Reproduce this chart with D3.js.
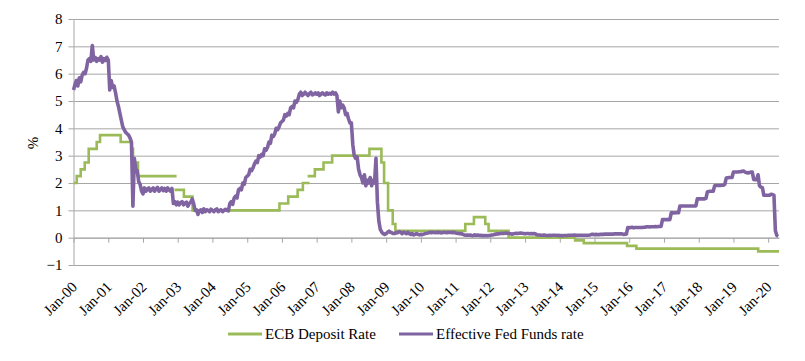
<!DOCTYPE html>
<html>
<head>
<meta charset="utf-8">
<script src="https://cdn.jsdelivr.net/npm/d3@7"></script>
<style>
  body { margin: 0; background: #fff; }
  svg { display: block; font-family: "Liberation Serif", "DejaVu Serif", serif; }
</style>
</head>
<body>
<svg id="chart" width="805" height="361"></svg>
<script>
// ECB deposit rate: change dates and the new rate (null = break in the line)
var ecbDates = ["2000-01-01","2000-02-04","2000-03-17","2000-04-28","2000-06-09","2000-09-01","2000-10-06",
  "2001-05-11","2001-08-31","2001-09-18","2001-11-09","2002-12-20", null,
  "2002-11-28","2003-03-07","2003-06-06","2005-12-06","2006-03-08","2006-06-15","2006-08-09","2006-10-18", null,
  "2006-09-28","2006-12-13","2007-03-14","2007-06-13","2008-07-09","2008-11-12","2008-12-10","2009-01-21",
  "2009-03-11","2009-04-08","2011-04-13","2011-07-13","2011-11-09","2011-12-14","2012-07-11","2014-06-11",
  "2014-09-10","2015-12-09","2016-03-16","2019-09-18","2020-04-24"];
var ecbRates = [2.0,2.25,2.5,2.75,3.25,3.5,3.75,
  3.5,3.25,2.75,2.25,2.25,null,
  1.75,1.5,1.0,1.25,1.5,1.75,2.0,2.0,null,
  2.25,2.5,2.75,3.0,3.25,2.75,2.0,1.0,
  0.5,0.25,0.5,0.75,0.5,0.25,0.0,-0.1,
  -0.2,-0.3,-0.4,-0.5,-0.5];

// Effective Fed Funds rate, read twice a month (1st and 16th) off the picture
var fed00 = [5.4,5.6,5.75,5.55,5.85,5.7,5.95,6.05,6.0,6.2,6.5,6.55,6.45,7.03,6.5,6.6,6.45,6.55,6.5,6.62,6.42,6.55,6.48,6.6];
var fed01 = [6.5,5.4,5.75,5.5,5.55,5.3,5.0,4.8,4.55,4.3,4.05,3.95,3.85,3.8,3.75,3.65,3.5,1.15,2.9,2.5,2.45,2.05,1.95,1.7];
var fed02 = [1.6,1.82,1.7,1.78,1.82,1.7,1.76,1.82,1.7,1.78,1.84,1.7,1.76,1.82,1.72,1.8,1.7,1.82,1.75,1.7,1.8,1.25,1.32,1.2];
var fed03 = [1.3,1.2,1.28,1.32,1.2,1.26,1.3,1.15,1.25,1.3,1.42,1.25,1.0,1.02,0.85,0.98,1.02,0.92,1.05,0.95,1.02,1.0,0.95,1.04];
var fed04 = [1.0,0.95,1.02,1.05,0.95,1.0,1.02,0.95,1.0,1.04,1.0,0.98,1.25,1.32,1.22,1.45,1.52,1.45,1.75,1.8,1.75,2.0,1.95,2.2];
var fed05 = [2.25,2.3,2.5,2.45,2.55,2.7,2.8,2.75,3.0,2.95,3.05,3.0,3.25,3.2,3.3,3.5,3.45,3.75,3.7,3.8,4.0,3.95,4.05,4.2];
var fed06 = [4.25,4.3,4.5,4.45,4.55,4.5,4.75,4.8,4.75,5.0,4.95,5.05,5.25,5.32,5.2,5.25,5.32,5.25,5.2,5.28,5.32,5.22,5.25,5.3];
var fed07 = [5.25,5.3,5.2,5.25,5.3,5.25,5.22,5.3,5.25,5.28,5.25,5.32,5.25,5.3,5.2,4.6,5.0,4.75,4.85,4.75,4.5,4.55,4.35,4.2];
var fed08 = [4.2,3.4,3.0,2.9,2.95,2.5,2.3,2.2,2.0,2.3,1.9,2.1,2.0,2.2,1.9,2.1,2.0,2.9,1.3,0.6,0.3,0.2,0.15,0.12];
var fed09 = [0.15,0.2,0.24,0.2,0.18,0.15,0.15,0.2,0.18,0.22,0.2,0.15,0.2,0.18,0.15,0.2,0.15,0.12,0.15,0.1,0.12,0.15,0.12,0.1];
var fed10 = [0.12,0.11,0.13,0.15,0.16,0.17,0.2,0.18,0.2,0.19,0.18,0.2,0.18,0.2,0.17,0.19,0.2,0.19,0.18,0.2,0.19,0.2,0.18,0.2];
var fed11 = [0.17,0.16,0.15,0.14,0.15,0.12,0.1,0.09,0.1,0.09,0.1,0.08,0.07,0.1,0.08,0.1,0.08,0.09,0.07,0.08,0.07,0.08,0.07,0.08];
var fed12 = [0.08,0.1,0.1,0.12,0.13,0.14,0.14,0.15,0.16,0.15,0.16,0.17,0.16,0.15,0.14,0.13,0.14,0.15,0.16,0.15,0.16,0.17,0.16,0.15];
var fed13 = [0.14,0.15,0.15,0.14,0.15,0.14,0.15,0.14,0.11,0.1,0.1,0.09,0.09,0.1,0.09,0.08,0.08,0.09,0.08,0.09,0.09,0.09,0.08,0.09];
var fed14 = [0.07,0.08,0.07,0.08,0.08,0.08,0.09,0.09,0.09,0.09,0.1,0.09,0.09,0.09,0.09,0.09,0.09,0.09,0.09,0.09,0.09,0.1,0.12,0.12];
var fed15 = [0.11,0.12,0.11,0.11,0.12,0.12,0.12,0.13,0.13,0.13,0.13,0.13,0.13,0.13,0.14,0.14,0.14,0.14,0.14,0.14,0.12,0.13,0.13,0.37];
var fed16 = [0.36,0.37,0.38,0.36,0.37,0.37,0.37,0.37,0.37,0.37,0.38,0.38,0.4,0.4,0.39,0.4,0.4,0.4,0.41,0.4,0.41,0.41,0.41,0.66];
var fed17 = [0.66,0.66,0.66,0.66,0.66,0.91,0.91,0.9,0.91,0.91,0.91,1.16,1.16,1.16,1.16,1.16,1.16,1.16,1.16,1.16,1.16,1.16,1.16,1.42];
var fed18 = [1.42,1.42,1.42,1.42,1.42,1.44,1.68,1.69,1.7,1.7,1.7,1.9,1.91,1.91,1.91,1.91,1.92,1.92,1.95,2.18,2.19,2.2,2.2,2.2];
var fed19 = [2.4,2.4,2.4,2.4,2.41,2.41,2.43,2.44,2.4,2.38,2.37,2.38,2.4,2.4,2.13,2.12,2.12,2.3,1.9,1.85,1.83,1.55,1.55,1.55];
var fed20 = [1.55,1.55,1.59,1.58,1.55,0.25,0.08,0.05];

var yTicks = [-1,0,1,2,3,4,5,6,7,8];
var seriesNames = ["ECB Deposit Rate", "Effective Fed Funds rate"];
var seriesColors = ["#9BBB59", "#8064A2"];

var svg = d3.select("#chart");
var plotLeft = 73.5, plotRight = 779, plotTop = 19, plotBottom = 265;
var fontSize = 15;

var parse = d3.utcParse("%Y-%m-%d");
var x = d3.scaleUtc()
  .domain([parse("2000-01-01"), parse("2020-04-24")])
  .range([plotLeft, plotRight]);
var y = d3.scaleLinear().domain([-1, 8]).range([plotBottom, plotTop]);

// gridlines
svg.append("g")
  .attr("transform", "translate(" + plotLeft + ",0)")
  .call(d3.axisLeft(y).tickValues(yTicks).tickSize(-(plotRight - plotLeft)).tickFormat(""))
  .call(function(g) {
    g.select(".domain").remove();
    g.selectAll("line").attr("stroke", "#A6A6A6").attr("stroke-width", 1);
  });

// y axis with labels
svg.append("g")
  .attr("transform", "translate(" + plotLeft + ",0)")
  .call(d3.axisLeft(y).tickValues(yTicks).tickSize(5).tickSizeOuter(0).tickPadding(6).tickFormat(d3.format("d")))
  .call(function(g) {
    g.select(".domain").attr("stroke", "#A6A6A6");
    g.selectAll("line").attr("stroke", "#A6A6A6");
    g.selectAll("text").attr("font-size", fontSize).attr("fill", "#000")
      .attr("font-family", "Liberation Serif, DejaVu Serif, serif");
  });

// x axis sits at zero, labels go below the -1 line
var xAxisG = svg.append("g")
  .attr("transform", "translate(0," + y(0) + ")")
  .call(d3.axisBottom(x).ticks(d3.utcYear.every(1)).tickSize(5).tickSizeOuter(0)
    .tickFormat(d3.utcFormat("Jan-%y")));
xAxisG.select(".domain").attr("stroke", "#A6A6A6");
xAxisG.selectAll("line").attr("stroke", "#A6A6A6");
xAxisG.selectAll("text")
  .attr("font-size", fontSize).attr("fill", "#000")
  .attr("font-family", "Liberation Serif, DejaVu Serif, serif")
  .attr("text-anchor", "end")
  .attr("x", 0).attr("y", 0).attr("dy", 0)
  .attr("transform", "translate(4," + (y(-1) - y(0) + 23) + ") rotate(-45)");

// y title
svg.append("text")
  .attr("transform", "translate(38,143) rotate(-90)")
  .attr("text-anchor", "middle")
  .attr("font-size", fontSize)
  .text("%");

// ECB step line
var ecbData = ecbDates.map(function(d, i) {
  return d === null ? null : { date: parse(d), value: ecbRates[i] };
});
var stepLine = d3.line()
  .defined(function(d) { return d !== null; })
  .x(function(d) { return x(d.date); })
  .y(function(d) { return y(d.value); })
  .curve(d3.curveStepAfter);
svg.append("path")
  .attr("d", stepLine(ecbData))
  .attr("fill", "none")
  .attr("stroke", seriesColors[0])
  .attr("stroke-width", 2.6);

// Fed funds line
var fedYears = [fed00,fed01,fed02,fed03,fed04,fed05,fed06,fed07,fed08,fed09,fed10,
  fed11,fed12,fed13,fed14,fed15,fed16,fed17,fed18,fed19,fed20];
var fedData = [];
fedYears.forEach(function(vals, yi) {
  vals.forEach(function(v, i) {
    var t = Date.UTC(2000 + yi, 0, 1) + i * (365.25 / 24) * 86400000;
    fedData.push({ date: new Date(t), value: v });
  });
});
var line = d3.line()
  .x(function(d) { return x(d.date); })
  .y(function(d) { return y(d.value); });
svg.append("path")
  .attr("d", line(fedData))
  .attr("fill", "none")
  .attr("stroke", seriesColors[1])
  .attr("stroke-width", 3.6)
  .attr("stroke-linejoin", "round");

// legend
var legendX = [228, 399];
seriesNames.forEach(function(name, i) {
  svg.append("line")
    .attr("x1", legendX[i]).attr("x2", legendX[i] + 34)
    .attr("y1", 334).attr("y2", 334)
    .attr("stroke", seriesColors[i]).attr("stroke-width", 3);
  svg.append("text")
    .attr("x", legendX[i] + 37).attr("y", 339)
    .attr("font-size", fontSize)
    .text(name);
});
</script>
</body>
</html>
